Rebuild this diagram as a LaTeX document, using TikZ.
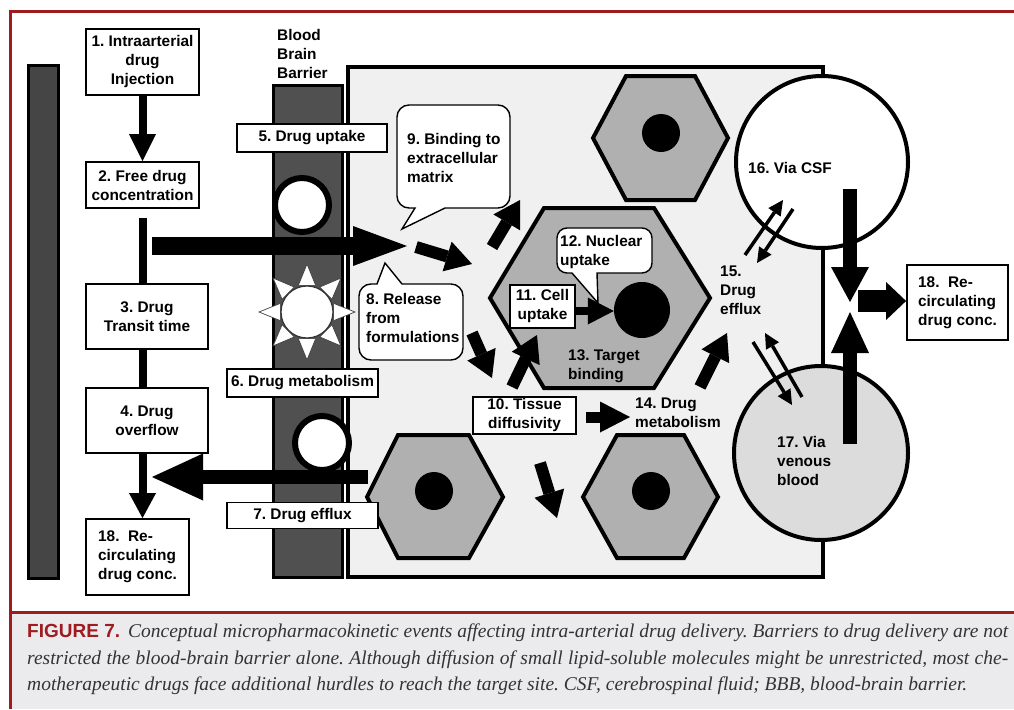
\documentclass[tikz,border=0pt]{standalone}
\usepackage{fontspec}
\newfontfamily\labfont{Liberation Sans}
\newfontfamily\capserif{Liberation Serif}
\usetikzlibrary{arrows.meta,calc}
\definecolor{capred}{HTML}{9E1B20}
\definecolor{capgray}{HTML}{EBEBED}
\definecolor{captext}{HTML}{333333}
\definecolor{bardark}{HTML}{454545}
\definecolor{bbbdark}{HTML}{505050}
\definecolor{brainfill}{HTML}{F0F0F0}
\definecolor{hexfill}{HTML}{B0B0B0}
\definecolor{venfill}{HTML}{DCDCDC}
\frenchspacing
\begin{document}
\begin{tikzpicture}[x=1pt,y=-1pt,
 lbl/.style={font=\labfont\bfseries\fontsize{15.4}{19}\selectfont, inner sep=0pt, align=left},
 box/.style={font=\labfont\bfseries\fontsize{15.4}{19}\selectfont, draw=black, line width=1.8pt, fill=white, align=center, inner sep=0pt},
 barrow/.style n args={3}{line width=#1, line cap=butt, -{Triangle[length=#2, width=#3, line width=0pt]}},
 thinarrow/.style={line width=3.5pt, line cap=butt, -{Triangle[length=15pt, width=15pt, line width=0pt]}},
 hexa/.style={fill=hexfill, draw=black, line width=4pt, line join=miter},
 bubble/.style={fill=white, draw=black, line width=1.4pt},
 bar/.style={fill=bardark, draw=black, line width=3pt},
 capline/.style={anchor=base west, inner sep=0pt, text=captext}
]
\useasboundingbox (0,0) rectangle (1014,709);
\fill[white] (0,0) rectangle (1014,709);
% caption frame
\fill[capgray] (10,613) rectangle (1014,709);
\draw[capred, line width=3pt] (1014,12) -- (10,12) -- (10,709);
\draw[capred, line width=3pt] (10,612) -- (1014,612);

% bars and brain tissue
\draw[bar] (28,66) rectangle (58,578);
\draw[bar, fill=bbbdark] (273,85) rectangle (342,577);
\draw[fill=brainfill, draw=black, line width=3.5pt] (348,67) rectangle (823,577);

% cells
\draw[hexa] (593,138) -- (626,76) -- (695,76) -- (728,138) -- (695,200) -- (626,200) -- cycle;
\node[circle, fill=black, minimum size=38pt, inner sep=0pt] (nucT) at (661,133) {};
\draw[hexa] (490,298) -- (544,208) -- (654,208) -- (710,298) -- (654,388) -- (544,388) -- cycle;
\node[circle, fill=black, minimum size=56pt, inner sep=0pt] (nucB) at (642,310) {};
\draw[hexa] (367,497) -- (398,435) -- (469,435) -- (503,497) -- (469,558) -- (398,558) -- cycle;
\node[circle, fill=black, minimum size=38pt, inner sep=0pt] (nucL) at (434,491) {};
\draw[hexa] (583,497) -- (617,435) -- (684,435) -- (718,497) -- (684,558) -- (617,558) -- cycle;
\node[circle, fill=black, minimum size=38pt, inner sep=0pt] (nucR) at (651,491) {};

% CSF and venous blood
\node[circle, fill=white, draw=black, line width=4pt, minimum size=172pt, inner sep=0pt] (csf) at (822,162) {};
\node[circle, fill=venfill, draw=black, line width=4pt, minimum size=174pt, inner sep=0pt] (ven) at (821,453) {};

% transporters in BBB
\node[circle, fill=white, draw=black, line width=6pt, minimum size=54pt, inner sep=0pt] (upc) at (302,205) {};
\node[circle, fill=white, draw=black, line width=6pt, minimum size=54pt, inner sep=0pt] (efc) at (322,443) {};
\coordinate (sun) at (307,312);
\foreach \a in {0,45,...,315}
  \draw[fill=white, draw=black!75, line width=0.7pt] ($(sun)+(\a:48)$) -- ($(sun)+(\a+18:28)$) -- ($(sun)+(\a-18:28)$) -- cycle;
\node[circle, fill=white, draw=black!80, line width=1.2pt, minimum size=52pt, inner sep=0pt] (sunc) at (sun) {};

% speech bubbles
\draw[bubble] (402,229) -- (445,208) [rounded corners=12pt] -- (510,208) -- (510,105) -- (397,105) -- (397,208) [sharp corners] -- (415,208) -- cycle;
\draw[bubble] (385,263) -- (402,284) [rounded corners=12pt] -- (463,284) -- (463,360) -- (359,360) -- (359,284) [sharp corners] -- (377,284) -- cycle;
\draw[bubble] (598,303) -- (597,273) [rounded corners=10pt] -- (652,273) -- (652,228) -- (557,228) -- (557,273) [sharp corners] -- (572,273) -- cycle;

% boxes
\node[box, minimum width=113pt, minimum height=66pt] (b1) at (142.5,62) {1. Intraarterial\\drug\\Injection};
\node[box, minimum width=113pt, minimum height=46pt] (b2) at (142.5,185) {2. Free drug\\concentration};
\node[box, minimum width=122pt, minimum height=65pt] (b3) at (147,316.5) {3. Drug\\Transit time};
\node[box, minimum width=122pt, minimum height=65pt] (b4) at (147,420.5) {4. Drug\\overflow};
\node[box, minimum width=103pt, minimum height=76pt, align=left] (b18l) at (137.5,557) {18.\ \ Re-\\circulating\\drug conc.};
\node[box, minimum width=150pt, minimum height=28pt] (b5) at (312,138) {5. Drug uptake};
\node[box, minimum width=151pt, minimum height=28pt] (b6) at (302.5,383) {6. Drug metabolism};
\node[box, minimum width=151pt, minimum height=26pt] (b7) at (302.5,515.5) {7. Drug efflux};
\node[box, minimum width=65pt, minimum height=43pt] (b11) at (542.5,306.5) {11. Cell\\uptake};
\node[box, minimum width=103pt, minimum height=37pt] (b10) at (524.5,415.5) {10. Tissue\\diffusivity};
\node[box, minimum width=101pt, minimum height=75pt, align=left] (b18r) at (957.5,302.5) {18.\ \ Re-\\circulating\\drug conc.};

% free labels
\node[lbl, anchor=west] (tbbb) at (277,54) {Blood\\Brain\\Barrier};
\node[lbl, anchor=west] (t9) at (407,158) {9. Binding to\\extracellular\\matrix};
\node[lbl, anchor=west] (t8) at (366,318) {8. Release\\from\\formulations};
\node[lbl, anchor=west] (t12) at (560,252.5) {12. Nuclear\\uptake};
\node[lbl, anchor=west] (t13) at (568,366) {13. Target\\binding};
\node[lbl, anchor=west] (t14) at (635,413) {14. Drug\\metabolism};
\node[lbl, anchor=west] (t15) at (720,290.5) {15.\\Drug\\efflux};
\node[lbl, anchor=west] (t16) at (748,168) {16. Via CSF};
\node[lbl, anchor=west] (t17) at (777,460.5) {17. Via\\venous\\blood};

% left column connectors
\draw[barrow={8pt}{27pt}{27pt}] (b1.south) -- (b2.north);
\coordinate (l2) at (142.5,218);
\draw[line width=8pt] (l2) -- (l2 |- b3.north);
\draw[line width=8pt] (l2 |- b3.south) -- (l2 |- b4.north);
\draw[barrow={8pt}{25pt}{27pt}] (l2 |- b4.south) -- (l2 |- b18l.north);

% uptake and efflux across BBB
\coordinate (upS) at (152,246);
\coordinate (upE) at (407,246);
\draw[barrow={18pt}{54pt}{40pt}] (upS) -- (upE);
\coordinate (efS) at (368,477);
\coordinate (efE) at (152,477);
\draw[barrow={14pt}{51pt}{47pt}] (efS) -- (efE);

% arrows in tissue
\coordinate (a1s) at (416,247); \coordinate (a1e) at (472,264);
\coordinate (a2s) at (492,247); \coordinate (a2e) at (520,200);
\coordinate (a3s) at (472,333); \coordinate (a3e) at (492,378);
\coordinate (a4s) at (512,387); \coordinate (a4e) at (537,335);
\coordinate (a5s) at (586,417); \coordinate (a5e) at (630,417);
\coordinate (a6s) at (700,387); \coordinate (a6e) at (727,333);
\coordinate (a7s) at (540,463); \coordinate (a7e) at (557,518);
\draw[barrow={12pt}{26pt}{31pt}] (a1s) -- (a1e);
\draw[barrow={12pt}{26pt}{31pt}] (a2s) -- (a2e);
\draw[barrow={12pt}{26pt}{31pt}] (a3s) -- (a3e);
\draw[barrow={12pt}{26pt}{31pt}] (a4s) -- (a4e);
\draw[barrow={11pt}{30pt}{31pt}] (a5s) -- (a5e);
\draw[barrow={12pt}{26pt}{31pt}] (a6s) -- (a6e);
\draw[barrow={12pt}{26pt}{31pt}] (a7s) -- (a7e);
\draw[barrow={8pt}{26pt}{27pt}] (b11.east |- 0,311) -- (nucB.west |- 0,311);

% efflux double arrows
\coordinate (d1s) at (745,255); \coordinate (d1e) at (783,200);
\coordinate (d2s) at (793,209); \coordinate (d2e) at (757,263);
\coordinate (d3s) at (802,397); \coordinate (d3e) at (765,333);
\coordinate (d4s) at (753,342); \coordinate (d4e) at (792,405);
\draw[thinarrow] (d1s) -- (d1e);
\draw[thinarrow] (d2s) -- (d2e);
\draw[thinarrow] (d3s) -- (d3e);
\draw[thinarrow] (d4s) -- (d4e);

% recirculation
\coordinate (csfS) at (850,189); \coordinate (csfE) at (850,302);
\coordinate (venS) at (850,444); \coordinate (venE) at (850,312);
\draw[barrow={14pt}{35pt}{38pt}] (csfS) -- (csfE);
\draw[barrow={14pt}{41pt}{38pt}] (venS) -- (venE);
\coordinate (jS) at (858,301);
\draw[barrow={22pt}{20pt}{38pt}] (jS) -- (b18r.west |- jS);

% caption
\node[capline] (cap1) at (27,637) {\hbox to 981pt{{\labfont\bfseries\fontsize{19}{22}\selectfont\color{capred}FIGURE 7.}\hskip 8pt{\capserif\itshape\fontsize{19.5}{22}\selectfont Conceptual micropharmacokinetic events affecting intra-arterial drug delivery. Barriers to drug delivery are not}}};
\node[capline] (cap2) at (27,664) {\hbox to 981pt{\capserif\itshape\fontsize{19.5}{22}\selectfont restricted the blood-brain barrier alone. Although diffusion of small lipid-soluble molecules might be unrestricted, most che-}};
\node[capline] (cap3) at (27,690) {\capserif\itshape\fontsize{19.5}{22}\selectfont motherapeutic drugs face additional hurdles to reach the target site. CSF, cerebrospinal fluid; BBB, blood-brain barrier.};
\end{tikzpicture}
\end{document}
